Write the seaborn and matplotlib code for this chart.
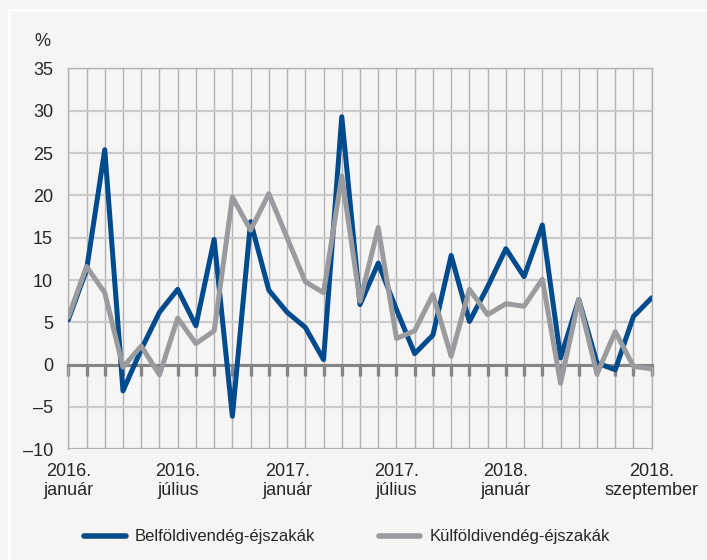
import numpy as np
import pandas as pd
import matplotlib
matplotlib.use("Agg")
import matplotlib.pyplot as plt
import seaborn as sns

# havi adatok, 2016. január - 2018. szeptember
months = pd.period_range("2016-01", "2018-09", freq="M")
belfold = [5.3, 11.2, 25.4, -3.1, 1.8, 6.2, 8.9, 4.6, 14.8, -6.1, 16.9,
           8.8, 6.2, 4.4, 0.6, 29.3, 7.1, 12.0, 6.5, 1.3, 3.5, 12.9,
           5.1, 9.2, 13.7, 10.4, 16.5, 0.8, 7.7, 0.2, -0.6, 5.7, 7.9]
kulfold = [5.6, 11.6, 8.5, -0.3, 2.2, -1.2, 5.5, 2.5, 4.0, 19.8, 15.9,
           20.2, 15.0, 9.8, 8.5, 22.3, 7.5, 16.2, 3.1, 4.0, 8.3, 1.0,
           8.9, 5.9, 7.2, 6.9, 10.1, -2.2, 7.7, -1.1, 3.9, -0.2, -0.5]
series_names = ["Belföldivendég-éjszakák", "Külföldivendég-éjszakák"]
tick_pos = [0, 6, 12, 18, 24, 32]
tick_labels = ["2016.\njanuár", "2016.\njúlius", "2017.\njanuár",
               "2017.\njúlius", "2018.\njanuár", "2018.\nszeptember"]
y_ticks = [-10, -5, 0, 5, 10, 15, 20, 25, 30, 35]

BLUE = "#004a8e"
GRAY = "#9a9b9f"
BG = "#f6f5f3"

df = pd.DataFrame({
    "idx": np.arange(len(months)),
    series_names[0]: belfold,
    series_names[1]: kulfold,
}).melt(id_vars="idx", var_name="sorozat", value_name="ertek")

sns.set_style("white")
plt.rcParams["font.family"] = ["Liberation Sans", "DejaVu Sans"]

fig = plt.figure(figsize=(7.07, 5.6), dpi=100, facecolor=BG)
ax = fig.add_axes([0.0966, 0.1977, 0.8252, 0.68])
ax.set_facecolor(BG)

# white frame near the figure edge
fig.add_artist(plt.Rectangle((9 / 707, -0.1), 1.2, 1.0 - 10 / 560 + 0.1,
                             transform=fig.transFigure, fill=False,
                             edgecolor="white", linewidth=2))

sns.lineplot(data=df, x="idx", y="ertek", hue="sorozat",
             palette=[BLUE, GRAY], linewidth=3.6, ax=ax, legend=False,
             zorder=5)

ax.set_xlim(0, len(months) - 1)
ax.set_ylim(-10, 35)
ax.set_xlabel("")
ax.set_ylabel("")

# grid
ax.set_xticks(np.arange(len(months)))
ax.set_xticklabels([])
ax.set_yticks(y_ticks)
ax.set_yticklabels([str(v).replace("-", "\u2013") for v in y_ticks],
                   fontsize=13)
ax.tick_params(axis="y", length=0, pad=11)
ax.grid(axis="x", color="#b2b2b8", linewidth=1.0, zorder=1)
ax.grid(axis="y", color="#cbcbcb", linewidth=1.6, zorder=1)

for side in ["top", "left", "right"]:
    ax.spines[side].set_color("#b2b2b8")
    ax.spines[side].set_linewidth(1.0)
ax.spines["bottom"].set_position(("data", 0))
ax.spines["bottom"].set_color("#858585")
ax.spines["bottom"].set_linewidth(2.2)
ax.spines["bottom"].set_zorder(3)
ax.tick_params(axis="x", bottom=True, direction="out", length=8, width=2.4,
               color="#858585", pad=0)
ax.axhline(-10, color="#b2b2b8", linewidth=1.5, zorder=2)

for p, lab in zip(tick_pos, tick_labels):
    ax.text(p, -11.6, lab, ha="center", va="top", fontsize=13,
            linespacing=1.2)

fig.text(42 / 707, 1 - 42 / 560, "%", ha="center", va="center", fontsize=13)

handles = [plt.Line2D([], [], color=BLUE, linewidth=4, solid_capstyle="round"),
           plt.Line2D([], [], color=GRAY, linewidth=4, solid_capstyle="round")]
fig.legend(handles, series_names, loc="center left", ncol=2,
           bbox_to_anchor=(84 / 707, 1 - 537 / 560), frameon=False,
           fontsize=12, handlelength=2.5, handletextpad=0.55,
           columnspacing=3.8, borderpad=0, borderaxespad=0)

fig.savefig("out.png", dpi=100, facecolor=BG)
